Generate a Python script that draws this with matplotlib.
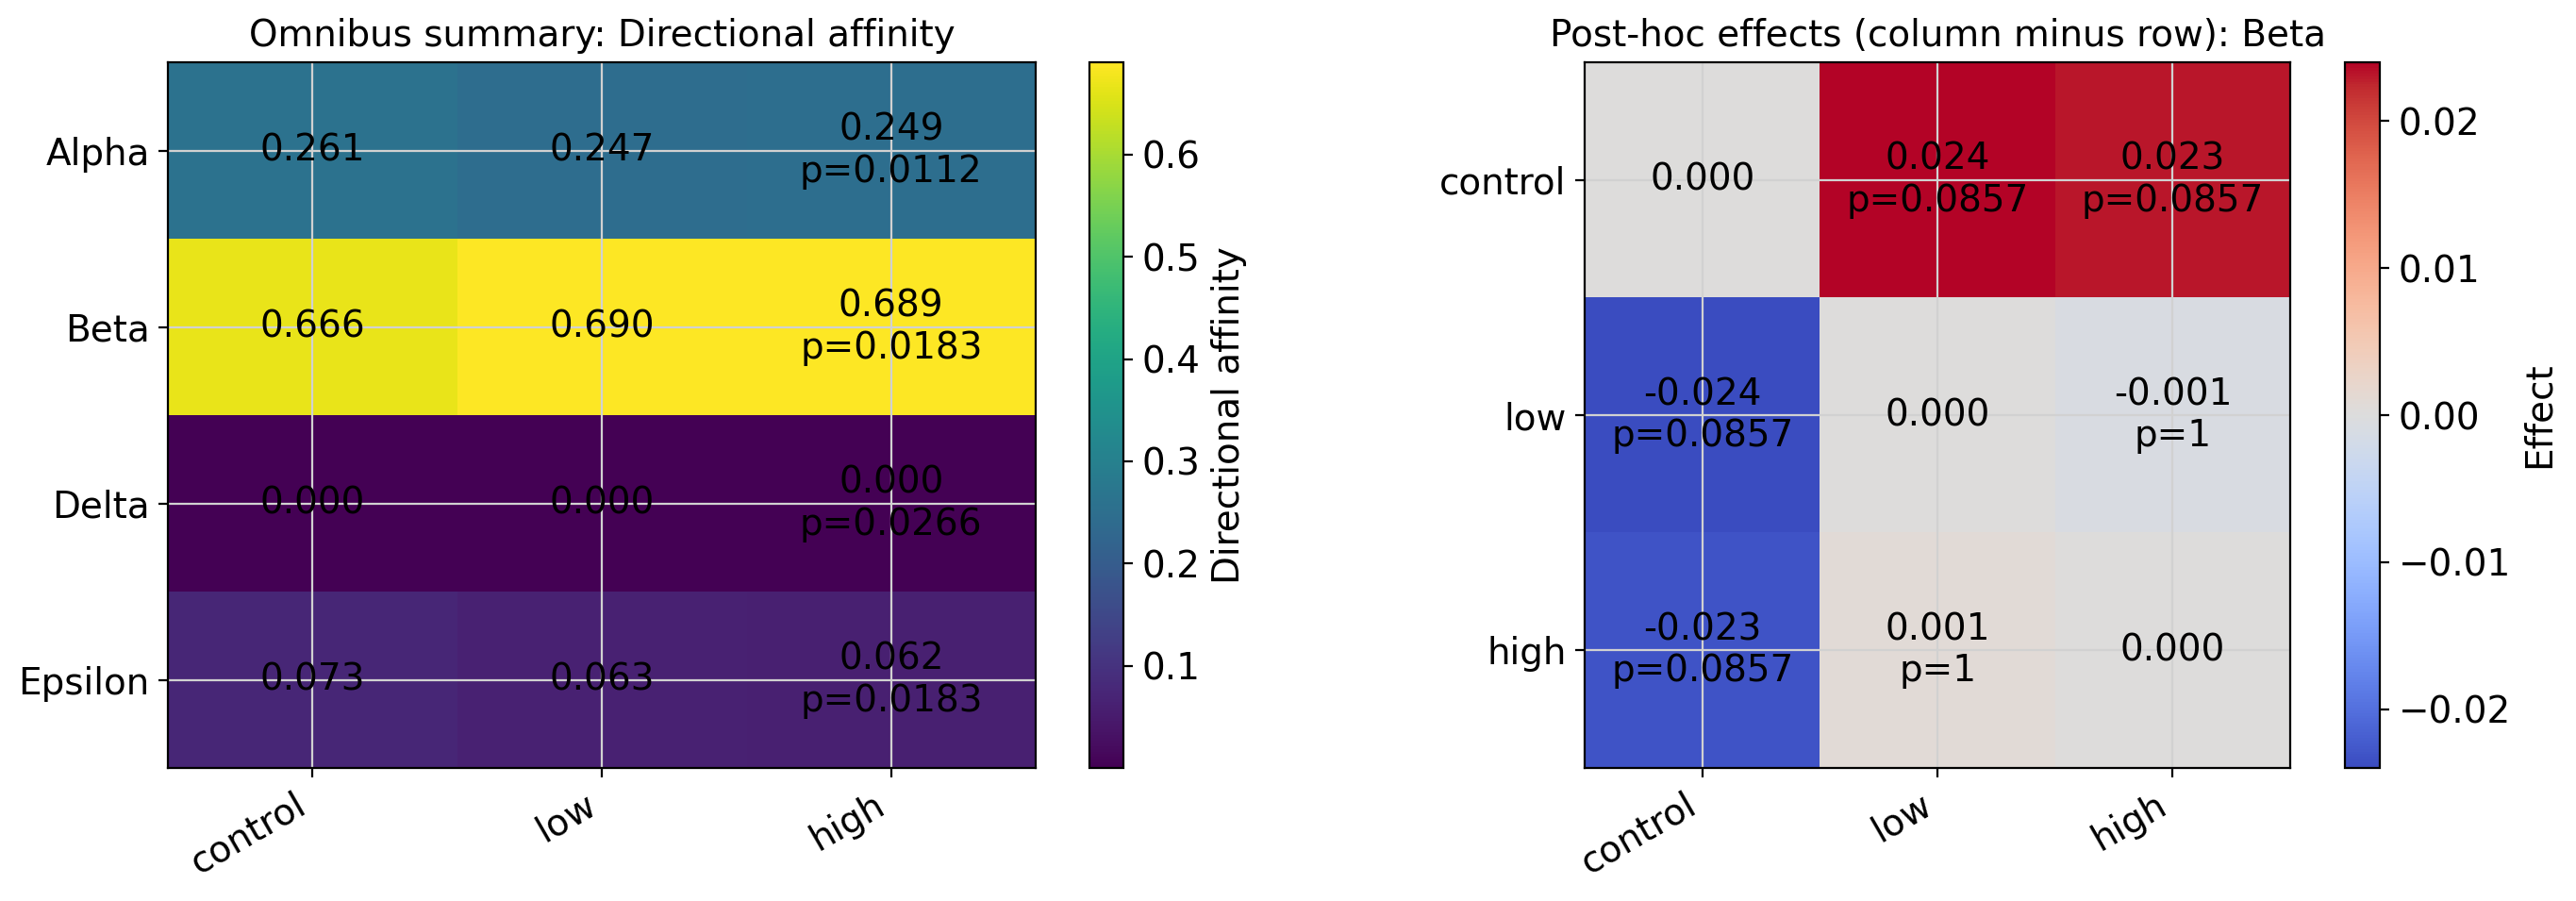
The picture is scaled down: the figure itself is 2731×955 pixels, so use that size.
import numpy as np
import matplotlib
matplotlib.use("Agg")
import matplotlib.pyplot as plt

# data
groups = ["control", "low", "high"]
features = ["Alpha", "Beta", "Delta", "Epsilon"]
affinity = np.array([
    [0.261, 0.247, 0.249],
    [0.666, 0.690, 0.689],
    [0.0002, 0.0003, 0.0003],
    [0.073, 0.063, 0.062],
])
omnibus_p = ["0.0112", "0.0183", "0.0266", "0.0183"]

effects = np.array([
    [0.000, 0.0240, 0.0232],
    [-0.0240, 0.000, -0.0008],
    [-0.0232, 0.0008, 0.000],
])
posthoc_p = [
    [None, "0.0857", "0.0857"],
    ["0.0857", None, "1"],
    ["0.0857", "1", None],
]

fs = 14
fig = plt.figure(figsize=(13.655, 4.775), dpi=200)

# left panel: omnibus summary
ax1 = fig.add_axes([0.0652, 0.1476, 0.3369, 0.7832])
im1 = ax1.imshow(affinity, cmap="viridis", aspect="auto")
ax1.set_xticks(range(len(groups)))
ax1.set_xticklabels(groups, rotation=30, ha="right", fontsize=fs)
ax1.set_yticks(range(len(features)))
ax1.set_yticklabels(features, fontsize=fs)
ax1.grid(True, color="0.82", linewidth=0.8)
ax1.set_title("Omnibus summary: Directional affinity", fontsize=fs)
for i in range(len(features)):
    for j in range(len(groups)):
        txt = f"{affinity[i, j]:.3f}"
        if j == len(groups) - 1:
            txt += f"\np={omnibus_p[i]}"
        ax1.text(j, i, txt, ha="center", va="center", fontsize=fs, color="black")

cax1 = fig.add_axes([0.4229, 0.1476, 0.0132, 0.7832])
cb1 = fig.colorbar(im1, cax=cax1)
cb1.set_label("Directional affinity", fontsize=fs)
cb1.ax.tick_params(labelsize=fs)

# right panel: post-hoc effects
ax2 = fig.add_axes([0.6152, 0.1476, 0.2739, 0.7832])
lim = np.abs(effects).max()
im2 = ax2.imshow(effects, cmap="coolwarm", vmin=-lim, vmax=lim, aspect="auto")
ax2.set_xticks(range(len(groups)))
ax2.set_xticklabels(groups, rotation=30, ha="right", fontsize=fs)
ax2.set_yticks(range(len(groups)))
ax2.set_yticklabels(groups, fontsize=fs)
ax2.grid(True, color="0.82", linewidth=0.8)
ax2.set_title("Post-hoc effects (column minus row): Beta", fontsize=fs)
for i in range(len(groups)):
    for j in range(len(groups)):
        txt = f"{effects[i, j]:.3f}"
        if posthoc_p[i][j] is not None:
            txt += f"\np={posthoc_p[i][j]}"
        ax2.text(j, i, txt, ha="center", va="center", fontsize=fs, color="black")

cax2 = fig.add_axes([0.9103, 0.1476, 0.0136, 0.7832])
cb2 = fig.colorbar(im2, cax=cax2)
cb2.set_label("Effect", fontsize=fs)
cb2.ax.tick_params(labelsize=fs)

fig.savefig("out.png", dpi=200)
